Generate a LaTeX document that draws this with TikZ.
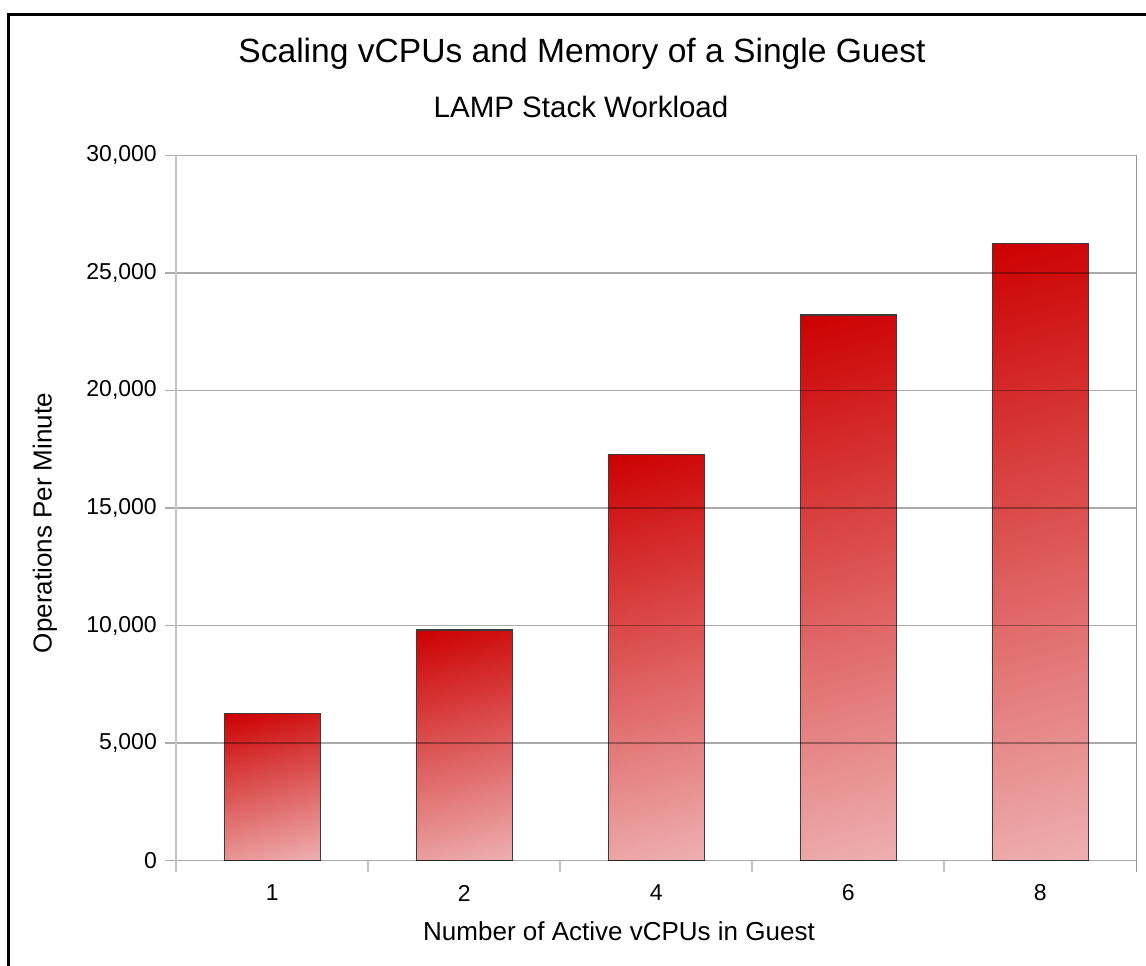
\documentclass[tikz,border=0pt]{standalone}
\usepackage{fontspec}
\setmainfont{Liberation Sans}
\definecolor{barTop}{RGB}{204,0,0}
\definecolor{barBot}{RGB}{238,176,176}
\definecolor{axisGray}{RGB}{196,196,196}
\definecolor{tickGray}{RGB}{150,150,150}
\definecolor{barEdge}{RGB}{60,60,60}
\tikzset{
  gridline/.style={black, opacity=0.33, line width=1.5pt},
  axisline/.style={axisGray, line width=2pt},
  ticklabel/.style={inner sep=0pt, font=\fontsize{23}{26}\selectfont},
  axistitle/.style={inner sep=0pt, font=\fontsize{26}{30}\selectfont},
  barfill/.style={top color=barTop, bottom color=barBot, shading angle=15},
  baredge/.style={draw=barEdge, line width=1.2pt},
}
\begin{document}
\begin{tikzpicture}[x=1pt, y=-1pt]
  \useasboundingbox (0,0) rectangle (1146,966);
  \fill[white] (0,0) rectangle (1146,966);
  % outer chart frame (runs past the page on the right and bottom)
  \draw[line width=3pt] (8.7,14.5) rectangle (1170,990);

  % titles
  \node[inner sep=0pt, font=\fontsize{33.6}{40}\selectfont] (title) at (582,53.5) {Scaling vCPUs and Memory of a Single Guest};
  \node[inner sep=0pt, font=\fontsize{29.5}{34}\selectfont] (subtitle) at (581,107) {LAMP Stack Workload};

  % plot geometry: y(0)=860.5, 117.53 px per 5,000; category width 192 starting at 176.3
  \def\ybase{860.5}
  \def\ystep{117.53}
  \def\xleft{176.3}
  \def\cw{192}

  % bars (values in thousands of operations per minute), slanted gradient
  \foreach \v [count=\i from 0] in {6.245,9.806,17.264,23.207,26.257} {
    \pgfmathsetmacro{\xa}{\xleft+\i*\cw+48}
    \pgfmathsetmacro{\xb}{\xa+96}
    \pgfmathsetmacro{\yt}{\ybase-\v*\ystep/5}
    \pgfmathsetmacro{\cx}{\xa+48}
    \pgfmathsetmacro{\cy}{(\yt+\ybase)/2}
    \pgfmathsetmacro{\hl}{((\ybase-\yt)*cos(15)+96*sin(15))/2}
    \begin{scope}
      \clip (\xa,\ybase) rectangle (\xb,\yt);
      \shade[barfill] (\cx-\hl,\cy-\hl) rectangle (\cx+\hl,\cy+\hl);
    \end{scope}
    \draw[baredge] (\xa,\ybase) rectangle (\xb,\yt);
  }

  % horizontal grid lines with left tick stubs and value labels
  \foreach \k/\lab in {0/0,1/{5,000},2/{10,000},3/{15,000},4/{20,000},5/{25,000},6/{30,000}} {
    \pgfmathsetmacro{\yy}{\ybase-\k*\ystep}
    \draw[gridline] (165,\yy) -- (1136.5,\yy);
    \node[ticklabel, anchor=east] (yl\k) at (157,\yy) {\lab};
  }

  % value axis and right border of the plot area
  \draw[axisline] (\xleft,155.3) -- (\xleft,872);
  \draw[tickGray, line width=1.5pt] (1136.5,155.3) -- (1136.5,872);

  % category ticks and labels
  \foreach \k in {1,2,3,4} {
    \pgfmathsetmacro{\xx}{\xleft+\k*\cw}
    \draw[axisline] (\xx,861) -- (\xx,872);
  }
  \foreach \lab [count=\i from 0] in {1,2,4,6,8} {
    \pgfmathsetmacro{\xx}{\xleft+\i*\cw+96}
    \node[ticklabel] (xl\i) at (\xx,893) {\lab};
  }

  % axis titles
  \node[axistitle] (xtitle) at (619,931) {Number of Active vCPUs in Guest};
  \node[axistitle, rotate=90] (ytitle) at (45,523) {Operations Per Minute};
\end{tikzpicture}
\end{document}
